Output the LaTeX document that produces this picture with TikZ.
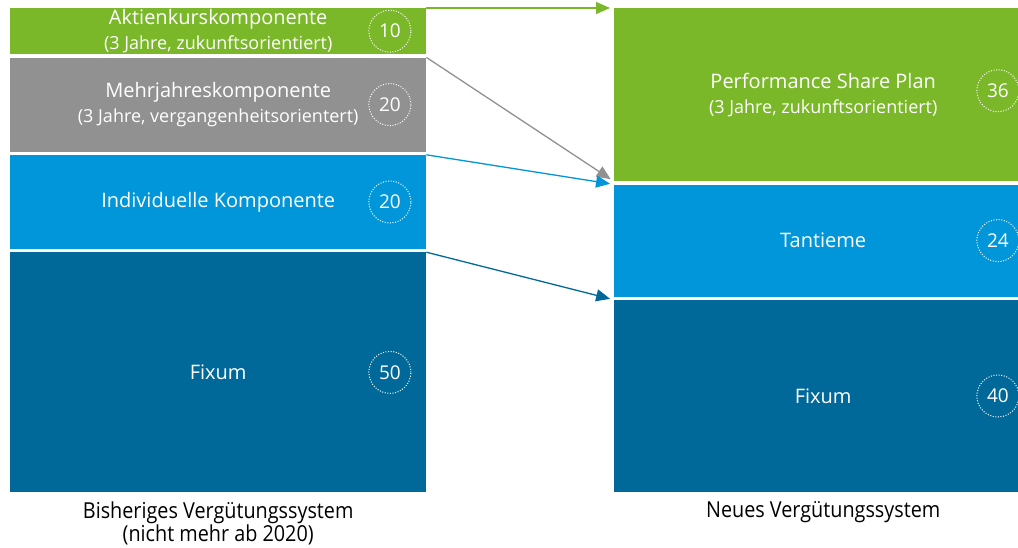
\documentclass[tikz,border=0pt]{standalone}
\usepackage{fontspec}
\setmainfont{Open Sans}
\newfontfamily\schmal[FakeStretch=0.9]{Open Sans}
\usetikzlibrary{arrows.meta, positioning}
\definecolor{gruen}{RGB}{122,184,41}
\definecolor{grau}{RGB}{145,145,145}
\definecolor{hellblau}{RGB}{0,150,217}
\definecolor{dunkelblau}{RGB}{0,105,153}
\newcommand{\zusatz}[1]{{\fontsize{18}{25}\selectfont #1}}

\begin{document}
\begin{tikzpicture}[x=1pt,y=-1pt,shorten >=4pt,node distance=3pt]
    \tikzstyle{balken}=[rectangle,inner sep=0pt,anchor=north west,text=white,align=center,font=\fontsize{20}{25}\selectfont]
    \tikzstyle{wert}=[circle,draw=white,dash pattern=on 1pt off 1.6pt,line width=1pt,minimum size=42pt,inner sep=0pt,text=white,font=\fontsize{19}{20}\selectfont]
    \tikzstyle{unten}=[align=center,text=black,font=\schmal\fontsize{22}{23}\selectfont]
    \tikzstyle{pfeil}=[-{Triangle[length=14pt,width=12pt]},line width=1.3pt]
    \useasboundingbox (0,0) rectangle (1018,547);

    % bisheriges System
    \node[balken,fill=gruen,minimum width=416pt,minimum height=46pt] (A1) at (10,8) {Aktienkurskomponente\\\zusatz{(3 Jahre, zukunftsorientiert)}};
    \node[balken,fill=grau,minimum width=416pt,minimum height=94pt,below=of A1] (A2) {Mehrjahreskomponente\\\zusatz{(3 Jahre, vergangenheitsorientert)}};
    \node[balken,fill=hellblau,minimum width=416pt,minimum height=94pt,below=of A2] (A3) {Individuelle Komponente};
    \node[balken,fill=dunkelblau,minimum width=416pt,minimum height=240pt,below=of A3] (A4) {Fixum};

    % neues System
    \node[balken,fill=gruen,minimum width=418pt,minimum height=173pt] (B1) at (614,8) {Performance Share Plan\\\zusatz{(3 Jahre, zukunftsorientiert)}};
    \node[balken,fill=hellblau,minimum width=418pt,minimum height=112pt,below=of B1] (B2) {Tantieme};
    \node[balken,fill=dunkelblau,minimum width=418pt,minimum height=192pt,below=of B2] (B3) {Fixum};

    % Werte
    \node[wert,left=15pt of A1.east] (w1) {10};
    \node[wert,left=15pt of A2.east] (w2) {20};
    \node[wert,left=15pt of A3.east] (w3) {20};
    \node[wert,left=15pt of A4.east] (w4) {50};
    \node[wert,left=13pt of B1.east,yshift=4pt] (w5) {36};
    \node[wert,left=13pt of B2.east] (w6) {24};
    \node[wert,left=13pt of B3.east] (w7) {40};

    \node[unten,below=6pt of A4] (L1) {Bisheriges Vergütungssystem\\(nicht mehr ab 2020)};
    \node[unten,below=6pt of B3] (L2) {Neues Vergütungssystem};

    \path[pfeil]
    (A1.north east) edge[draw=gruen] (B1.north west)
    (A2.north east) edge[draw=grau] (B1.south west)
    (A3.north east) edge[draw=hellblau] (B2.north west)
    (A4.north east) edge[draw=dunkelblau] (B3.north west)
   ;

\end{tikzpicture}
\end{document}
